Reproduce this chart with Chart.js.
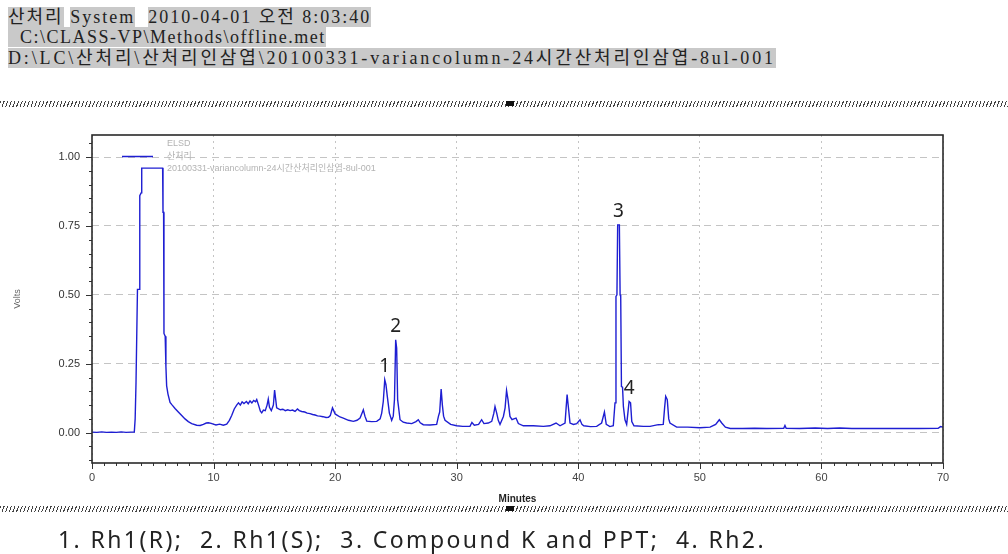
<!DOCTYPE html>
<html>
<head>
<meta charset="utf-8">
<script src="https://cdn.jsdelivr.net/npm/chart.js@4.4.0/dist/chart.umd.min.js"></script>
<style>
	body { margin: 0; width: 1008px; height: 554px; background: #fff; position: relative; overflow: hidden; }
	#chart { position: absolute; left: 0; top: 0; }
	.head { position: absolute; left: 8px; font-family: "Liberation Serif", "Noto Sans CJK KR", serif; font-size: 18px; line-height: 20px; white-space: pre; color: #222; }
	.head span { background: #c9c9c9; }
	.hatch { position: absolute; left: 0; width: 1008px; height: 6px; background: repeating-linear-gradient(110deg, #444 0 1px, transparent 1px 3.4px); }
	.hatch b { position: absolute; left: 506px; top: 0; width: 8px; height: 5px; background: #111; }
	.caption { position: absolute; left: 58px; top: 523px; font-family: "Noto Sans", "Noto Sans CJK KR", sans-serif; font-size: 23px; letter-spacing: 2.4px; color: #222; white-space: pre; }
</style>
</head>
<body>
<div class="head" style="top:7px; letter-spacing:2px"><span>산처리</span> <span>System</span>  <span>2010-04-01 오전 8:03:40</span></div>
<div class="head" style="top:27px; letter-spacing:1.5px"><span>  C:\CLASS-VP\Methods\offline.met</span></div>
<div class="head" style="top:48px; letter-spacing:2.85px"><span>D:\LC\산처리\산처리인삼엽\20100331-variancolumn-24시간산처리인삼엽-8ul-001</span></div>
<div class="hatch" style="top:101px"><b></b></div>
<div class="hatch" style="top:506px"><b></b></div>
<canvas id="chart" width="1008" height="554"></canvas>
<div class="caption">1. Rh1(R);  2. Rh1(S);  3. Compound K and PPT;  4. Rh2.</div>

<script>
// chromatogram trace (minutes, volts)
const retention_min = [
	0.0, 0.4, 0.8, 1.2, 1.6, 2.0, 2.4, 2.8, 3.2, 3.48,
	3.55, 3.62, 3.70, 3.74, 3.88, 3.93, 4.04, 4.09, 5.81, 5.84,
	5.89, 5.92, 6.02, 6.08, 6.14, 6.25, 6.42, 6.6, 6.83, 7.1,
	7.38, 7.65, 7.92, 8.2, 8.61, 8.9, 9.16, 9.4, 9.57, 9.8,
	9.98, 10.2, 10.5, 10.8, 11.08, 11.3, 11.49, 11.7, 11.9, 12.05,
	12.2, 12.35, 12.5, 12.7, 12.85, 13.0, 13.15, 13.3, 13.45, 13.55,
	13.7, 13.85, 13.96, 14.1, 14.25, 14.4, 14.5, 14.6, 14.75, 14.92,
	15.02, 15.1, 15.19, 15.35, 15.5, 15.7, 15.9, 16.1, 16.3, 16.5,
	16.7, 16.9, 17.05, 17.25, 17.5, 17.7, 17.93, 18.15, 18.35, 18.55,
	18.75, 19.0, 19.25, 19.45, 19.6, 19.78, 19.88, 20.0, 20.15, 20.4,
	20.67, 21.1, 21.5, 21.8, 22.05, 22.25, 22.32, 22.45, 22.6, 23.0,
	23.42, 23.7, 23.83, 23.96, 24.08, 24.18, 24.29, 24.46, 24.65, 24.78,
	24.88, 24.98, 25.06, 25.14, 25.34, 25.6, 25.88, 26.3, 26.65, 26.84,
	27.0, 27.25, 27.8, 28.35, 28.5, 28.6, 28.72, 28.82, 28.92, 29.04,
	29.5, 29.99, 30.5, 31.09, 31.25, 31.45, 31.8, 32.05, 32.24, 32.6,
	32.88, 33.05, 33.15, 33.29, 33.42, 33.56, 33.84, 33.98, 34.1, 34.22,
	34.38, 34.55, 34.7, 34.88, 35.07, 35.48, 36.3, 37.13, 37.67, 38.17,
	38.5, 38.91, 39.0, 39.08, 39.18, 39.32, 39.6, 39.87, 40.14, 40.3,
	40.45, 41.0, 41.51, 41.92, 42.15, 42.3, 42.6, 42.88, 43.02, 43.1,
	43.18, 43.24, 43.38, 43.44, 43.49, 43.55, 43.64, 43.71, 43.84, 43.98,
	44.1, 44.18, 44.3, 44.4, 44.58, 45.35, 45.9, 46.58, 46.99, 47.1,
	47.19, 47.32, 47.44, 47.54, 48.09, 49.0, 50.0, 50.84, 51.3, 51.6,
	51.8, 52.1, 52.5, 53.5, 54.5, 55.5, 56.9, 57.0, 57.1, 58.2,
	59.5, 60.5, 61.5, 62.5, 64.0, 66.0, 68.0, 69.6, 69.8, 70.0
];
const elsd_volts = [
	0.002, 0.001, 0.003, 0.001, 0.002, 0.001, 0.003, 0.001, 0.002, 0.002,
	0.05, 0.18, 0.18, 0.52, 0.52, 0.86, 0.87, 0.96, 0.96, 0.80,
	0.80, 0.36, 0.35, 0.24, 0.17, 0.14, 0.11, 0.10, 0.088, 0.075,
	0.062, 0.05, 0.04, 0.033, 0.027, 0.026, 0.03, 0.035, 0.036, 0.034,
	0.031, 0.028, 0.031, 0.027, 0.031, 0.045, 0.062, 0.086, 0.1, 0.108,
	0.1, 0.112, 0.106, 0.113, 0.105, 0.115, 0.108, 0.117, 0.112, 0.12,
	0.1, 0.078, 0.072, 0.082, 0.08, 0.1, 0.122, 0.092, 0.08, 0.1,
	0.155, 0.125, 0.09, 0.086, 0.083, 0.085, 0.08, 0.083, 0.08, 0.082,
	0.077, 0.086, 0.08, 0.077, 0.075, 0.071, 0.069, 0.066, 0.064, 0.061,
	0.06, 0.058, 0.055, 0.056, 0.062, 0.09, 0.08, 0.068, 0.064, 0.057,
	0.053, 0.045, 0.041, 0.045, 0.053, 0.075, 0.083, 0.06, 0.042, 0.04,
	0.041, 0.05, 0.071, 0.113, 0.192, 0.174, 0.132, 0.071, 0.045, 0.06,
	0.12, 0.337, 0.307, 0.12, 0.047, 0.038, 0.035, 0.033, 0.04, 0.047,
	0.036, 0.029, 0.028, 0.03, 0.06, 0.075, 0.158, 0.1, 0.06, 0.045,
	0.03, 0.025, 0.023, 0.023, 0.037, 0.027, 0.03, 0.047, 0.033, 0.035,
	0.041, 0.07, 0.095, 0.071, 0.045, 0.03, 0.059, 0.09, 0.153, 0.12,
	0.059, 0.047, 0.05, 0.053, 0.033, 0.025, 0.025, 0.023, 0.025, 0.035,
	0.025, 0.035, 0.09, 0.138, 0.095, 0.035, 0.03, 0.033, 0.047, 0.03,
	0.025, 0.022, 0.023, 0.035, 0.075, 0.03, 0.022, 0.025, 0.108, 0.494,
	0.5, 0.754, 0.754, 0.5, 0.494, 0.167, 0.165, 0.095, 0.047, 0.03,
	0.08, 0.113, 0.108, 0.04, 0.025, 0.023, 0.023, 0.029, 0.03, 0.09,
	0.132, 0.12, 0.05, 0.035, 0.02, 0.02, 0.018, 0.02, 0.03, 0.047,
	0.035, 0.02, 0.015, 0.015, 0.016, 0.015, 0.016, 0.026, 0.016, 0.015,
	0.017, 0.015, 0.017, 0.015, 0.015, 0.015, 0.015, 0.016, 0.022, 0.02
];

// numbered peaks
const peak_names = ["1", "2", "3", "4"];
const peak_min = [24.08, 24.98, 43.3, 44.18];
const peak_volts = [0.192, 0.337, 0.754, 0.113];

// axes
const x_ticks = [0, 10, 20, 30, 40, 50, 60, 70];
const y_ticks = [0.0, 0.25, 0.5, 0.75, 1.0];

// legend lines
const legend_lines = ["ELSD", "산처리", "20100331-variancolumn-24시간산처리인삼엽-8ul-001"];

const trace_points = retention_min.map((m, i) => ({ x: m, y: elsd_volts[i] }));

// border, tick marks, legend and peak numbers
const decor_plugin = {
	id: "decor",
	afterDraw(chart) {
		const c = chart.ctx;
		const area = chart.chartArea;
		const xs = chart.scales.x;
		const ys = chart.scales.y;
		c.save();

		// tick marks, minor every 1 min / 0.05 V
		c.strokeStyle = "#333";
		c.lineWidth = 1;
		c.beginPath();
		for (let m = 0; m <= 70; m++) {
			const px = Math.round(xs.getPixelForValue(m)) + 0.5;
			const len = m % 10 === 0 ? 6 : 3;
			c.moveTo(px, area.bottom);
			c.lineTo(px, area.bottom + len);
		}
		for (let k = -2; k <= 21; k++) {
			const py = Math.round(ys.getPixelForValue(k * 0.05)) + 0.5;
			const len = k % 5 === 0 ? 6 : 3;
			c.moveTo(area.left, py);
			c.lineTo(area.left - len, py);
		}
		c.stroke();

		// frame
		c.strokeStyle = "#2a2a2a";
		c.lineWidth = 1.6;
		c.strokeRect(area.left, area.top, area.right - area.left, area.bottom - area.top);

		// legend
		const lx = area.left + 30;
		c.strokeStyle = "#1e1ed2";
		c.lineWidth = 1.5;
		c.beginPath();
		c.moveTo(lx, area.top + 21.5);
		c.lineTo(lx + 31, area.top + 21.5);
		c.stroke();
		c.fillStyle = "#b3b3b3";
		c.font = '9px "Liberation Sans", "Noto Sans CJK KR", sans-serif';
		c.textBaseline = "middle";
		c.textAlign = "left";
		legend_lines.forEach((t, i) => {
			c.fillText(t, lx + 45, area.top + 9 + i * 12.5);
		});

		// peak numbers
		c.fillStyle = "#222";
		c.font = '19px "Noto Sans", sans-serif';
		c.textAlign = "center";
		peak_names.forEach((n, i) => {
			const px = xs.getPixelForValue(peak_min[i]);
			const py = ys.getPixelForValue(peak_volts[i]);
			c.fillText(n, px, py - 13);
		});
		c.restore();
	},
};

const ctx = document.getElementById("chart").getContext("2d");
const my_chart = new Chart(ctx, {
	type: "line",
	data: {
		datasets: [
			{
				label: "ELSD",
				data: trace_points,
				borderColor: "#1e1ed2",
				borderWidth: 1.4,
				pointRadius: 0,
				tension: 0,
				fill: false,
			},
		],
	},
	options: {
		responsive: false,
		animation: false,
		devicePixelRatio: 1,
		layout: { padding: { left: 0, right: 65, top: 135, bottom: 0 } },
		plugins: { legend: { display: false }, tooltip: { enabled: false } },
		scales: {
			x: {
				type: "linear",
				min: 0,
				max: 70,
				afterFit: (s) => { s.height = 91; },
				afterBuildTicks: (s) => { s.ticks = x_ticks.map((v) => ({ value: v })); },
				grid: { color: "#c4c4c4", lineWidth: 1, drawTicks: false },
				border: { display: false, dash: [2, 4] },
				ticks: {
					padding: 8,
					color: "#444",
					font: { family: "Liberation Sans", size: 11 },
					maxRotation: 0,
				},
				title: {
					display: true,
					text: "Minutes",
					color: "#222",
					font: { family: "Liberation Sans", size: 10, weight: "bold" },
					padding: { top: 0, bottom: 49 },
				},
			},
			y: {
				type: "linear",
				min: -0.11,
				max: 1.08,
				afterFit: (s) => { s.width = 92; },
				afterBuildTicks: (s) => { s.ticks = y_ticks.map((v) => ({ value: v })); },
				grid: { color: "#c4c4c4", lineWidth: 1, drawTicks: false },
				border: { display: false, dash: [7, 5] },
				ticks: {
					padding: 12,
					color: "#333",
					font: { family: "Liberation Sans", size: 11 },
					callback: (v) => v.toFixed(2),
				},
				title: {
					display: true,
					text: "Volts",
					color: "#666",
					font: { family: "Liberation Sans", size: 9 },
					padding: { top: 12, bottom: 0 },
				},
			},
		},
	},
	plugins: [decor_plugin],
});
</script>
</body>
</html>
